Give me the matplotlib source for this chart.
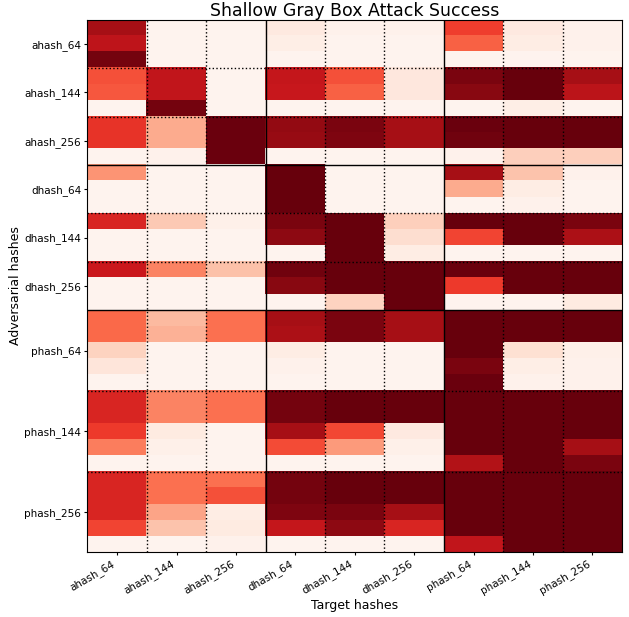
import numpy as np
import matplotlib
matplotlib.use("Agg")
import matplotlib.pyplot as plt

target_hashes = ["ahash_64", "ahash_144", "ahash_256",
                 "dhash_64", "dhash_144", "dhash_256",
                 "phash_64", "phash_144", "phash_256"]
adversarial_hashes = ["ahash_64", "ahash_144", "ahash_256",
                      "dhash_64", "dhash_144", "dhash_256",
                      "phash_64", "phash_144", "phash_256"]
# number of attack settings (rows) per adversarial hash
rows_per_hash = [3, 3, 3, 3, 3, 3, 5, 5, 5]

# success rates, one row per attack setting, columns follow target_hashes
ahash_64 = [
    [0.87, 0.01, 0.01, 0.07, 0.02, 0.02, 0.62, 0.07, 0.02],
    [0.79, 0.01, 0.01, 0.04, 0.01, 0.01, 0.52, 0.05, 0.02],
    [0.97, 0.01, 0.01, 0.01, 0.01, 0.01, 0.01, 0.01, 0.01],
]
ahash_144 = [
    [0.57, 0.78, 0.01, 0.77, 0.57, 0.08, 0.96, 1.00, 0.87],
    [0.55, 0.78, 0.01, 0.76, 0.52, 0.08, 0.93, 1.00, 0.80],
    [0.01, 0.97, 0.01, 0.01, 0.01, 0.01, 0.01, 0.04, 0.01],
]
ahash_256 = [
    [0.65, 0.30, 0.99, 0.91, 0.96, 0.87, 0.99, 1.00, 1.00],
    [0.65, 0.30, 0.99, 0.90, 0.95, 0.87, 0.98, 1.00, 1.00],
    [0.01, 0.02, 0.99, 0.01, 0.01, 0.01, 0.02, 0.18, 0.18],
]
dhash_64 = [
    [0.37, 0.01, 0.01, 1.00, 0.01, 0.01, 0.87, 0.22, 0.02],
    [0.01, 0.01, 0.01, 1.00, 0.01, 0.01, 0.30, 0.05, 0.01],
    [0.01, 0.01, 0.01, 1.00, 0.01, 0.01, 0.01, 0.02, 0.01],
]
dhash_144 = [
    [0.70, 0.20, 0.03, 0.96, 1.00, 0.18, 1.00, 1.00, 0.96],
    [0.01, 0.01, 0.01, 0.92, 1.00, 0.13, 0.60, 1.00, 0.85],
    [0.01, 0.01, 0.01, 0.01, 1.00, 0.05, 0.01, 0.01, 0.01],
]
dhash_256 = [
    [0.75, 0.42, 0.23, 0.98, 1.00, 1.00, 0.99, 1.00, 1.00],
    [0.01, 0.01, 0.01, 0.93, 1.00, 1.00, 0.63, 1.00, 1.00],
    [0.01, 0.01, 0.01, 0.01, 0.17, 1.00, 0.01, 0.01, 0.06],
]
phash_64 = [
    [0.50, 0.25, 0.48, 0.87, 0.96, 0.87, 1.00, 1.00, 1.00],
    [0.50, 0.28, 0.48, 0.85, 0.96, 0.87, 1.00, 1.00, 1.00],
    [0.17, 0.01, 0.01, 0.05, 0.01, 0.01, 1.00, 0.12, 0.03],
    [0.09, 0.01, 0.01, 0.02, 0.01, 0.01, 0.96, 0.04, 0.02],
    [0.01, 0.01, 0.01, 0.01, 0.01, 0.01, 0.99, 0.02, 0.02],
]
phash_144 = [
    [0.70, 0.42, 0.48, 0.97, 1.00, 1.00, 1.00, 1.00, 1.00],
    [0.70, 0.42, 0.48, 0.97, 1.00, 1.00, 1.00, 1.00, 1.00],
    [0.63, 0.06, 0.01, 0.87, 0.59, 0.07, 1.00, 1.00, 1.00],
    [0.44, 0.03, 0.01, 0.58, 0.35, 0.03, 1.00, 1.00, 0.87],
    [0.01, 0.01, 0.01, 0.01, 0.01, 0.01, 0.83, 1.00, 0.96],
]
phash_256 = [
    [0.70, 0.48, 0.48, 0.97, 1.00, 1.00, 1.00, 1.00, 1.00],
    [0.70, 0.48, 0.57, 0.97, 1.00, 1.00, 1.00, 1.00, 1.00],
    [0.70, 0.32, 0.05, 0.95, 0.96, 0.87, 1.00, 1.00, 1.00],
    [0.60, 0.22, 0.06, 0.77, 0.92, 0.70, 1.00, 1.00, 1.00],
    [0.01, 0.01, 0.02, 0.01, 0.01, 0.01, 0.78, 1.00, 1.00],
]

data = np.array(ahash_64 + ahash_144 + ahash_256 +
                dhash_64 + dhash_144 + dhash_256 +
                phash_64 + phash_144 + phash_256)

fig = plt.figure(figsize=(6.29, 6.17), dpi=100)
ax = fig.add_axes([0.139, 0.105, 0.85, 0.863])
ax.imshow(data, cmap="Reds", vmin=0, vmax=1, aspect="auto",
          interpolation="nearest")

n_rows, n_cols = data.shape
bounds = np.cumsum(rows_per_hash)
centers = bounds - np.array(rows_per_hash) / 2 - 0.5

# separators between hash groups: solid between hash families, dotted otherwise
for i, b in enumerate(bounds[:-1]):
    style = "-" if (i + 1) % 3 == 0 else ":"
    ax.axhline(b - 0.5, color="black", linestyle=style, linewidth=1)
for c in range(1, n_cols):
    style = "-" if c % 3 == 0 else ":"
    ax.axvline(c - 0.5, color="black", linestyle=style, linewidth=1)

ax.set_xticks(np.arange(n_cols))
ax.set_xticklabels(target_hashes, rotation=30, ha="right", fontsize=7.5)
ax.set_yticks(centers)
ax.set_yticklabels(adversarial_hashes, fontsize=7.5)
ax.tick_params(length=2.5, pad=2)
ax.set_xlim(-0.5, n_cols - 0.5)
ax.set_ylim(n_rows - 0.5, -0.5)

ax.set_xlabel("Target hashes", fontsize=9, labelpad=2)
ax.set_ylabel("Adversarial hashes", fontsize=9, labelpad=2)
ax.set_title("Shallow Gray Box Attack Success", fontsize=12.5, pad=3)

fig.savefig("out.png", dpi=100)
